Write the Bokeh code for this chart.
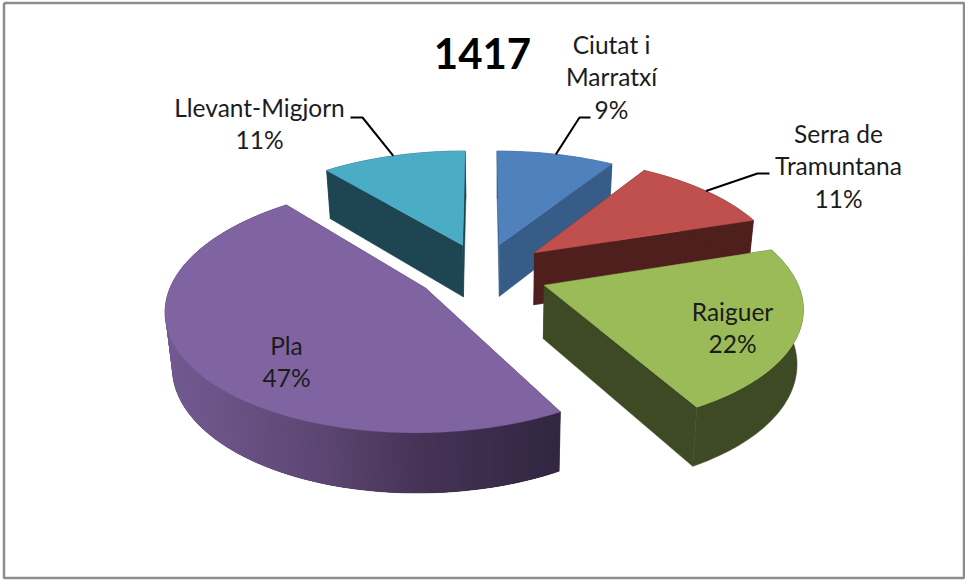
import math
from bokeh.plotting import figure
from bokeh.embed import file_html
from bokeh.resources import INLINE
from bokeh.core.properties import value

# ---- data
categories = ["Ciutat i\nMarratxí", "Serra de\nTramuntana", "Raiguer", "Pla", "Llevant-Migjorn"]
percent = [9, 11, 22, 47, 11]
title = "1417"

# ---- styling / layout
top_colors = ["#4f81bd", "#c0504d", "#9bbb59", "#8064a2", "#4bacc6"]
side_colors = ["#385c88", "#4e1f1d", "#3e4a24", "#45335a", "#1e4552"]
pla_stops = [(166, (0x72, 0x5a, 0x90)), (240, (0x68, 0x51, 0x82)), (330, (0x5a, 0x44, 0x70)),
             (420, (0x45, 0x33, 0x56)), (558, (0x32, 0x26, 0x41))]
explode = [0.25, 0.27, 0.27, 0.25, 0.23]
nudges = [(2, 1), (2, 1), (0, 3), (-2, 1), (1, -1)]
label_xy = [(611, 44), (838, 133), (732, 311), (286, 345), (259, 107)]
elbows = [[(590, 117), (579, 117)], [(769, 173), (757, 173)], None, None, [(350, 117), (362, 117)]]
CX, CY, RX, RY, PERSP = 480, 270, 250, 116, 0.157
draw_order = [0, 4, 1, 3, 2]
PLA = 3


def project(X, Z):
    s = 1 / (1 - PERSP * Z)
    return CX + X * RX * s, CY + Z * RY * s


def lower(x, y):
    return x + 0.021 * (500 - x), y + 53.5 + 0.046 * (y - 283)


def pla_color(x):
    for (x0, c0), (x1, c1) in zip(pla_stops, pla_stops[1:]):
        if x <= x1:
            t = max(0, (x - x0) / (x1 - x0))
            return "#%02x%02x%02x" % tuple(round(a + (b - a) * t) for a, b in zip(c0, c1))
    return "#%02x%02x%02x" % pla_stops[-1][1]


p = figure(width=965, height=580, x_range=(0, 965), y_range=(580, 0), output_backend="svg",
           toolbar_location=None, min_border=0,
           background_fill_color="white", border_fill_color="white", outline_line_color=None)
p.axis.visible = False
p.grid.visible = False

# frame
fx, fy = [3.5, 963.5, 963.5, 3.5, 3.5], [2.5, 2.5, 577.5, 577.5, 2.5]
p.line(fx, fy, line_color="#8c8c8c", line_width=2.5)

# geometry
total = sum(percent)
anchors = {}
for i in draw_order:
    a0 = sum(percent[:i]) / total * 2 * math.pi
    a1 = sum(percent[:i + 1]) / total * 2 * math.pi
    mid = (a0 + a1) / 2
    ox, oz = explode[i] * math.sin(mid), -explode[i] * math.cos(mid)
    dx, dy = nudges[i]
    n = max(16, int(percent[i] * 4))
    arc = []
    for k in range(n + 1):
        a = a0 + (a1 - a0) * k / n
        x, y = project(ox + math.sin(a), oz - math.cos(a))
        arc.append((x + dx, y + dy))
    ax, ay = project(ox, oz)
    ax, ay = ax + dx, ay + dy
    mx, my = project(ox + math.sin(mid), oz - math.cos(mid))
    anchors[i] = (mx + dx, my + dy)

    outline = [(ax, ay)] + arc
    low = [lower(*q) for q in outline]
    col = side_colors[i]
    px = [q[0] for q in outline]
    py = [q[1] for q in outline]
    lx_ = [q[0] for q in low]
    ly_ = [q[1] for q in low]
    # cut faces
    for j in (0, len(outline) - 1):
        k = 1 if j == 0 else 0
        p.patch([px[j], px[k], lx_[k], lx_[j]], [py[j], py[k], ly_[k], ly_[j]],
                fill_color=col, line_color=col, line_width=0.5)
    # rim
    p.patch(px[1:] + lx_[1:][::-1], py[1:] + ly_[1:][::-1], fill_color=col, line_color=col, line_width=0.5)
    if i == PLA:
        # shaded rim: each strip reaches past its neighbour so no seams appear
        m = len(outline)
        for j in range(1, m - 1):
            e = min(j + 3, m - 1)
            c = pla_color((px[j] + px[j + 1]) / 2)
            p.patch([px[j], px[e], lx_[e], lx_[j]], [py[j], py[e], ly_[e], ly_[j]],
                    fill_color=c, line_color=None)
    p.patch(px, py, fill_color=top_colors[i], line_color=top_colors[i], line_width=0.5)

# leader lines
for i, e in enumerate(elbows):
    if e:
        xs = [q[0] for q in e] + [anchors[i][0]]
        ys = [q[1] for q in e] + [anchors[i][1]]
        p.line(xs, ys, line_color="#000000", line_width=2)

# labels
lx, ly, lt = [], [], []
for i, cat in enumerate(categories):
    lines = cat.split("\n") + [f"{percent[i]}%"]
    x, y = label_xy[i]
    for j, s in enumerate(lines):
        lx.append(x)
        ly.append(y + j * 32.3)
        lt.append(s)
p.text(lx, ly, text=lt, text_align="center", text_baseline="middle", text_color="#1c1c1c",
       text_font=value("Lato"), text_font_size="24.5px")
p.text([482], [53], text=[title], text_align="center", text_baseline="middle", text_color="#000000",
       text_font=value("Lato"), text_font_style="bold", text_font_size="42px")

open("out.html", "w").write(file_html(p, INLINE))
